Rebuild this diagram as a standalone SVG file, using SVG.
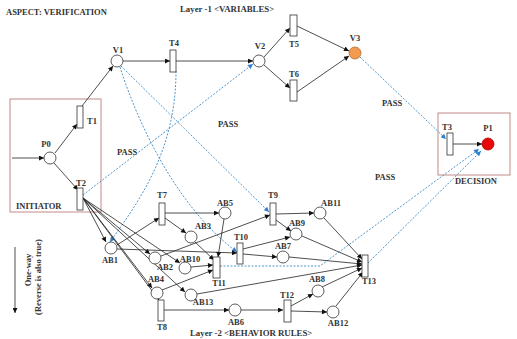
<svg xmlns="http://www.w3.org/2000/svg" width="517" height="339" viewBox="0 0 517 339">
<style>
text{font-family:"Liberation Serif","Times New Roman",serif;font-weight:bold;font-size:8.5px;fill:#333}
.c{text-anchor:middle}
.pl{fill:#fff;stroke:#333;stroke-width:0.8}
.tr{fill:#fff;stroke:#333;stroke-width:0.8}
.e{fill:none;stroke:#222;stroke-width:0.8;marker-end:url(#a)}
.d{fill:none;stroke:#3d8ac4;stroke-width:0.9;stroke-dasharray:2,1.5;marker-end:url(#b)}
.box{fill:none;stroke:#c08a88;stroke-width:1}
</style>
<defs>
<marker id="a" viewBox="0 0 10 10" refX="10" refY="5" markerWidth="6" markerHeight="5" markerUnits="userSpaceOnUse" orient="auto"><path d="M0,0 L10,5 L0,10 z" fill="#111"/></marker>
<marker id="b" viewBox="0 0 10 10" refX="10" refY="5" markerWidth="6" markerHeight="5" markerUnits="userSpaceOnUse" orient="auto"><path d="M0,0 L10,5 L0,10 z" fill="#2a7fd0"/></marker>
</defs>
<rect width="517" height="339" fill="#fff"/>
<text x="6" y="15">ASPECT: VERIFICATION</text>
<text x="180" y="12" style="font-size:8.8px">Layer -1 &lt;VARIABLES&gt;</text>
<text x="190" y="336" style="font-size:8.8px">Layer -2 &lt;BEHAVIOR RULES&gt;</text>
<g id="initiator"><rect class="box" x="10" y="99" width="91" height="113"/><text x="16" y="209">INITIATOR</text></g>
<g id="decision"><rect class="box" x="438" y="113" width="72" height="62"/><text x="476" y="184" class="c">DECISION</text></g>
<g id="oneway">
<line x1="15" y1="247" x2="15" y2="313" class="e"/>
<text transform="translate(31,270) rotate(-90)" class="c">One-way</text>
<text transform="translate(41,277) rotate(-90)" class="c">(Reverse is also true)</text>
</g>
<g id="labels">
<text x="382" y="106">PASS</text>
<text x="218" y="127">PASS</text>
<text x="117" y="155">PASS</text>
<text x="375" y="180">PASS</text>
</g>
<g id="connectors">
<line class="e" x1="12" y1="158" x2="44" y2="158"/>
<line class="e" x1="55" y1="153" x2="77" y2="124"/>
<line class="e" x1="82" y1="106" x2="113" y2="66"/>
<line class="e" x1="54" y1="163" x2="78" y2="190"/>
<line class="e" x1="123" y1="61" x2="170" y2="61"/>
<line class="e" x1="176" y1="61" x2="253" y2="61"/>
<line class="e" x1="264" y1="57" x2="290" y2="28"/>
<line class="e" x1="264" y1="65" x2="290" y2="88"/>
<line class="e" x1="297" y1="26" x2="349" y2="51"/>
<line class="e" x1="297" y1="92" x2="349" y2="56"/>
<line class="e" x1="453" y1="144" x2="482" y2="144"/>
<line class="d" x1="360" y1="57" x2="446" y2="139"/>
<line class="d" x1="83" y1="195" x2="253" y2="64"/>
<line class="d" x1="121" y1="66" x2="269" y2="212"/>
<path class="d" d="M120,67 C140,130 180,210 237,252"/>
<path class="d" d="M176,71 C176,150 140,200 110,242"/>
<path class="d" d="M220,266 L320,266 L479,149"/>
<line class="d" x1="368" y1="263" x2="481" y2="151"/>
<line class="e" x1="83" y1="198" x2="106" y2="242"/>
<line class="e" x1="83" y1="198" x2="150" y2="254"/>
<line class="e" x1="83" y1="198" x2="180" y2="263"/>
<line class="e" x1="83" y1="198" x2="152" y2="288"/>
<line class="e" x1="83" y1="198" x2="159" y2="300"/>
<line class="e" x1="83" y1="198" x2="185" y2="292"/>
<line class="e" x1="117" y1="245" x2="159" y2="218"/>
<line class="e" x1="117" y1="249" x2="237" y2="253"/>
<line class="e" x1="165" y1="213" x2="219" y2="213"/>
<line class="e" x1="165" y1="218" x2="186" y2="233"/>
<line class="e" x1="224" y1="219" x2="218" y2="257"/>
<line class="e" x1="195" y1="242" x2="214" y2="260"/>
<line class="e" x1="161" y1="256" x2="270" y2="215"/>
<line class="e" x1="191" y1="267" x2="213" y2="265"/>
<line class="e" x1="162" y1="290" x2="213" y2="270"/>
<line class="e" x1="197" y1="294" x2="362" y2="265"/>
<line class="e" x1="164" y1="310" x2="229" y2="310"/>
<line class="e" x1="241" y1="310" x2="283" y2="310"/>
<line class="e" x1="291" y1="306" x2="313" y2="294"/>
<line class="e" x1="291" y1="311" x2="327" y2="312"/>
<line class="e" x1="322" y1="287" x2="362" y2="268"/>
<line class="e" x1="336" y1="306" x2="363" y2="272"/>
<line class="e" x1="276" y1="214" x2="314" y2="213"/>
<line class="e" x1="276" y1="220" x2="291" y2="231"/>
<line class="e" x1="243" y1="249" x2="290" y2="237"/>
<line class="e" x1="243" y1="254" x2="277" y2="257"/>
<line class="e" x1="324" y1="218" x2="362" y2="259"/>
<line class="e" x1="302" y1="236" x2="362" y2="262"/>
<line class="e" x1="289" y1="257" x2="362" y2="264"/>
</g>
<g id="P0"><circle class="pl" cx="50" cy="158" r="6"/><text x="46" y="147" class="c">P0</text></g>
<g id="T1"><rect class="tr" x="77" y="106" width="6" height="22"/><text x="87" y="124">T1</text></g>
<g id="T2"><rect class="tr" x="77" y="188" width="6" height="22"/><text x="81" y="186" class="c">T2</text></g>
<g id="V1"><circle class="pl" cx="117" cy="61" r="6"/><text x="118" y="53" class="c">V1</text></g>
<g id="T4"><rect class="tr" x="170" y="50" width="6" height="22"/><text x="174" y="46" class="c">T4</text></g>
<g id="V2"><circle class="pl" cx="259" cy="61" r="6"/><text x="260" y="49" class="c">V2</text></g>
<g id="T5"><rect class="tr" x="290" y="15" width="7" height="21"/><text x="294" y="47" class="c">T5</text></g>
<g id="T6"><rect class="tr" x="290" y="80" width="7" height="21"/><text x="294" y="77" class="c">T6</text></g>
<g id="V3"><circle cx="355" cy="53" r="6" fill="#f29a4e" stroke="#b8682c" stroke-width="0.8"/><text x="355" y="41" class="c">V3</text></g>
<g id="T3"><rect class="tr" x="447" y="133" width="6" height="22"/><text x="447" y="130" class="c">T3</text></g>
<g id="P1"><circle cx="488" cy="144" r="6" fill="#e80808" stroke="#a00" stroke-width="0.8"/><text x="488" y="131" class="c">P1</text></g>
<g id="AB1"><circle class="pl" cx="111" cy="248" r="6"/><text x="110" y="263" class="c">AB1</text></g>
<g id="T7"><rect class="tr" x="159" y="203" width="6" height="22"/><text x="162" y="198" class="c">T7</text></g>
<g id="AB5"><circle class="pl" cx="225" cy="213" r="6"/><text x="225" y="206" class="c">AB5</text></g>
<g id="AB3"><circle class="pl" cx="191" cy="237" r="6"/><text x="203" y="229" class="c">AB3</text></g>
<g id="T10"><rect class="tr" x="237" y="243" width="6" height="21"/><text x="241" y="240" class="c">T10</text></g>
<g id="AB2"><circle class="pl" cx="155" cy="258" r="6"/><text x="165" y="270" class="c">AB2</text></g>
<g id="AB10"><circle class="pl" cx="185" cy="268" r="6"/><text x="190" y="262" class="c">AB10</text></g>
<g id="T11"><rect class="tr" x="213" y="257" width="7" height="21"/><text x="219" y="286" class="c">T11</text></g>
<g id="AB4"><circle class="pl" cx="157" cy="293" r="6"/><text x="156" y="282" class="c">AB4</text></g>
<g id="AB13"><circle class="pl" cx="191" cy="295" r="6"/><text x="203" y="305" class="c">AB13</text></g>
<g id="T8"><rect class="tr" x="158" y="300" width="6" height="21"/><text x="162" y="330" class="c">T8</text></g>
<g id="AB6"><circle class="pl" cx="235" cy="310" r="6"/><text x="236" y="325" class="c">AB6</text></g>
<g id="T9"><rect class="tr" x="270" y="203" width="6" height="22"/><text x="273" y="198" class="c">T9</text></g>
<g id="AB11"><circle class="pl" cx="320" cy="213" r="6"/><text x="331" y="206" class="c">AB11</text></g>
<g id="AB9"><circle class="pl" cx="296" cy="234" r="6"/><text x="297" y="226" class="c">AB9</text></g>
<g id="AB7"><circle class="pl" cx="283" cy="257" r="6"/><text x="283" y="249" class="c">AB7</text></g>
<g id="T13"><rect class="tr" x="362" y="255" width="6" height="22"/><text x="369" y="284" class="c">T13</text></g>
<g id="AB8"><circle class="pl" cx="318" cy="291" r="6"/><text x="317" y="282" class="c">AB8</text></g>
<g id="T12"><rect class="tr" x="284" y="300" width="7" height="22"/><text x="287" y="298" class="c">T12</text></g>
<g id="AB12"><circle class="pl" cx="333" cy="312" r="6"/><text x="338" y="326" class="c">AB12</text></g>
</svg>
